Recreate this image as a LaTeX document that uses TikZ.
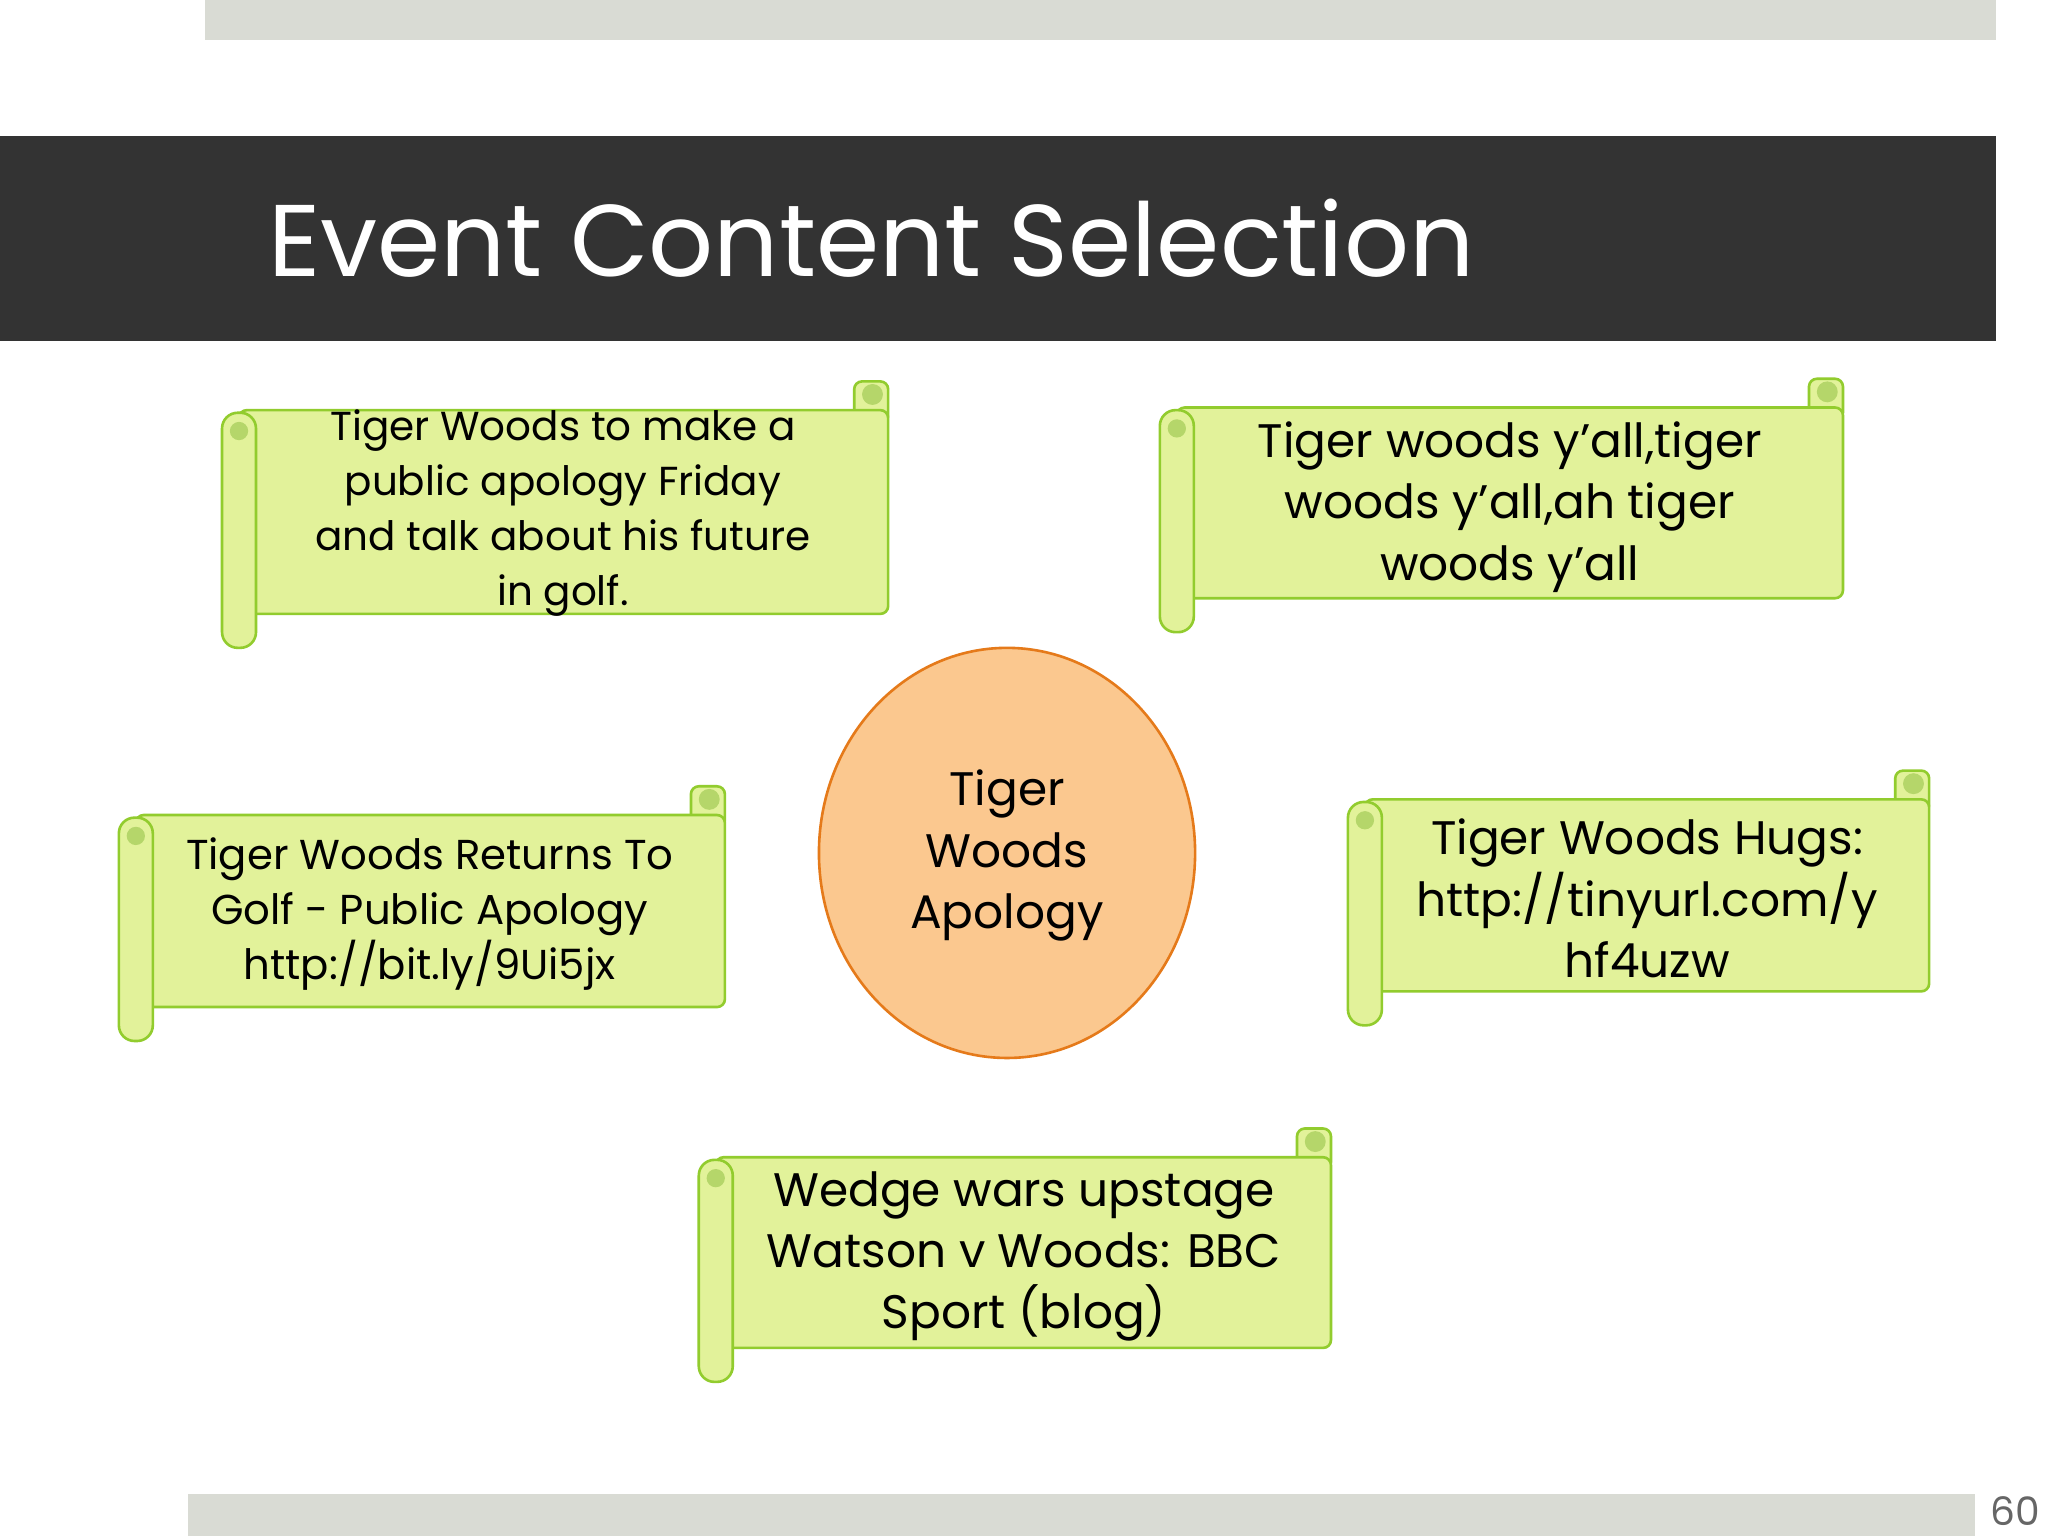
\documentclass[tikz,border=0pt]{standalone}
\usepackage{fontspec}
\setmainfont{Poppins}
\definecolor{scfill}{HTML}{E2F29A}
\definecolor{scline}{HTML}{92CC2E}
\definecolor{scdark}{HTML}{B5D66A}
\definecolor{ovfill}{HTML}{FBC88F}
\definecolor{ovline}{HTML}{E57A1A}
\definecolor{bargray}{HTML}{D9DBD4}
\newcommand\scrollshape[4]{%
  \draw[scline,line width=2pt,fill=scfill,rounded corners=6pt] ({#3-26},{-(#2+2)}) rectangle (#3,{-(#2+34)});
  \fill[scdark] ({#3-12},{-(#2+12)}) circle (8);
  \draw[scline,line width=2pt,fill=scfill,rounded corners=6pt] ({#1+13},{-(#2+24)}) rectangle (#3,{-(#4-26)});
  \draw[scline,line width=2pt,fill=scfill,rounded corners=12pt] (#1,{-(#2+26)}) rectangle ({#1+26},{-#4});
  \fill[scdark] ({#1+13},{-(#2+40)}) circle (7);
}
\begin{document}
\begin{tikzpicture}[x=1pt,y=1pt,
  txt/.style={align=center,font=\fontsize{36}{47}\selectfont,text=black,inner sep=0pt}]
\useasboundingbox (0,0) rectangle (1568,-1176);
\fill[white] (0,0) rectangle (1568,-1176);
\fill[bargray] (157,0) rectangle (1528,-31);
\fill[black!80] (0,-104) rectangle (1528,-261);
\node[anchor=base west,text=white,font=\fontsize{78}{80}\selectfont,inner sep=0pt] (title) at (205,-212) {Event Content Selection};
\fill[bargray] (144,-1144) rectangle (1512,-1176);
\node[anchor=base east,text=black!60,font=\fontsize{30}{32}\selectfont,inner sep=0pt] (pg) at (1562,-1168) {60};

\scrollshape{170}{290}{680}{496}
\node[txt,font=\fontsize{31}{42}\selectfont] (s1) at (431,-393) {Tiger Woods to make a\\public apology Friday\\and talk about his future\\in golf.};
\scrollshape{888}{288}{1411}{484}
\node[txt] (s2) at (1156,-388) {Tiger woods y'all,tiger\\woods y'all,ah tiger\\woods y'all};
\scrollshape{91}{600}{555}{797}
\node[txt,font=\fontsize{32}{42}\selectfont] (s3) at (329,-700) {Tiger Woods Returns To\\Golf - Public Apology\\http://bit.ly/9Ui5jx};
\scrollshape{1032}{588}{1477}{785}
\node[txt] (s4) at (1261,-688) {Tiger Woods Hugs:\\http://tinyurl.com/y\\hf4uzw};
\scrollshape{535}{862}{1019}{1058}
\node[txt] (s5) at (784,-962) {Wedge wars upstage\\Watson v Woods: BBC\\Sport (blog)};

\draw[ovline,line width=2pt,fill=ovfill] (771,-653) ellipse (144 and 157);
\node[txt] (c) at (771,-655) {Tiger\\Woods\\Apology};
\end{tikzpicture}
\end{document}
